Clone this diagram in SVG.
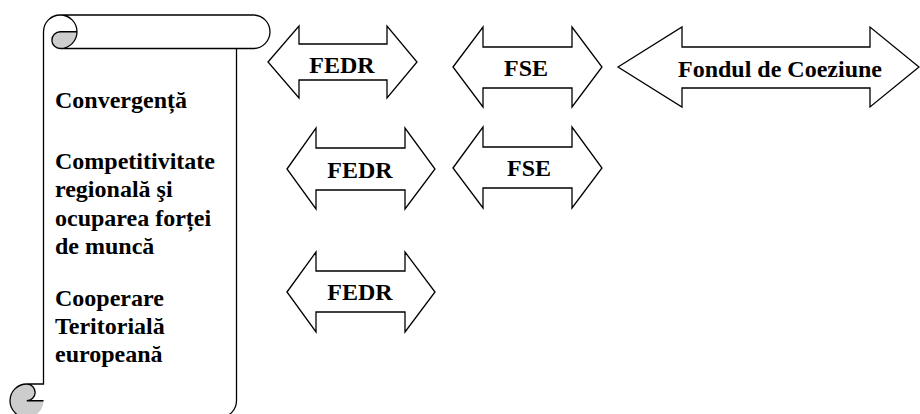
<svg xmlns="http://www.w3.org/2000/svg" width="920" height="414" viewBox="0 0 920 414">
<style>
.ln{fill:none;stroke:#000;stroke-width:1.3;stroke-linejoin:miter}
.arw{fill:#fff;stroke:#000;stroke-width:1.3;stroke-linejoin:miter}
.t{font-family:"Liberation Serif","Times New Roman",serif;font-weight:bold;font-size:24px;fill:#000}
.c{text-anchor:middle}
</style>
<rect width="920" height="414" fill="#fff"/>
<g id="scroll">
<path fill="#fff" d="M26.75,417.5 A16.75,16.75 0 0 0 43.5,400.75 L43.5,31.75 A16.75,16.75 0 0 1 60.25,15 L253.25,15 A16.75,16.75 0 0 1 253.25,48.5 L236.5,48.5 L236.5,400.75 A16.75,16.75 0 0 1 219.75,417.5 Z"/>
<path fill="#cdcdcd" d="M77,31.75 A16.75,16.75 0 0 1 60.25,48.5 A8.375,8.375 0 0 1 60.25,31.75 Z"/>
<path fill="#cdcdcd" d="M43.5,400.75 A16.75,16.75 0 1 1 26.75,384 A8.375,8.375 0 0 1 26.75,400.75 Z"/>
<path class="ln" d="M43.5,384 L43.5,31.75 A16.75,16.75 0 0 1 60.25,15 L253.25,15 A16.75,16.75 0 0 1 253.25,48.5 L236.5,48.5 L236.5,400.75 A16.75,16.75 0 0 1 219.75,417.5 L26.75,417.5 A16.75,16.75 0 0 1 26.75,384 Z M60.25,15 A16.75,16.75 0 0 1 60.25,48.5 A8.375,8.375 0 0 1 60.25,31.75 L77,31.75 M236.5,48.5 L60.25,48.5 M26.75,384 A8.375,8.375 0 0 1 26.75,400.75 L43.5,400.75"/>
<text class="t" x="55" y="108">Convergență</text>
<text class="t" x="55" y="169">Competitivitate</text>
<text class="t" x="55" y="197">regională şi</text>
<text class="t" x="55" y="226">ocuparea forței</text>
<text class="t" x="55" y="254">de muncă</text>
<text class="t" x="55" y="306">Cooperare</text>
<text class="t" x="55" y="334">Teritorială</text>
<text class="t" x="55" y="362">europeană</text>
</g>
<g id="fedr1">
<path class="arw" d="M268,62 L299,26 L299,44 L387,44 L387,26 L417,62 L387,98 L387,80 L299,80 L299,98 Z"/>
<text class="t c" x="342" y="73">FEDR</text>
</g>
<g id="fse1">
<path class="arw" d="M453,67 L483,27 L483,47 L572,47 L572,27 L602,67 L572,107 L572,88 L483,88 L483,107 Z"/>
<text class="t c" x="526" y="76">FSE</text>
</g>
<g id="coeziune">
<path class="arw" d="M618,67 L682,27 L682,47 L870,47 L870,27 L919,67 L870,107 L870,88 L682,88 L682,107 Z"/>
<text class="t c" x="780" y="77">Fondul de Coeziune</text>
</g>
<g id="fedr2">
<path class="arw" d="M287,169 L316,128 L316,148 L405,148 L405,128 L435,169 L405,209 L405,190 L316,190 L316,209 Z"/>
<text class="t c" x="360" y="178">FEDR</text>
</g>
<g id="fse2">
<path class="arw" d="M453,168 L483,127 L483,147 L572,147 L572,127 L602,168 L572,208 L572,188 L483,188 L483,208 Z"/>
<text class="t c" x="529" y="176">FSE</text>
</g>
<g id="fedr3">
<path class="arw" d="M287,292 L316,252 L316,271 L405,271 L405,252 L435,292 L405,332 L405,312 L316,312 L316,332 Z"/>
<text class="t c" x="360" y="300">FEDR</text>
</g>
<g id="connectors"></g>
</svg>
